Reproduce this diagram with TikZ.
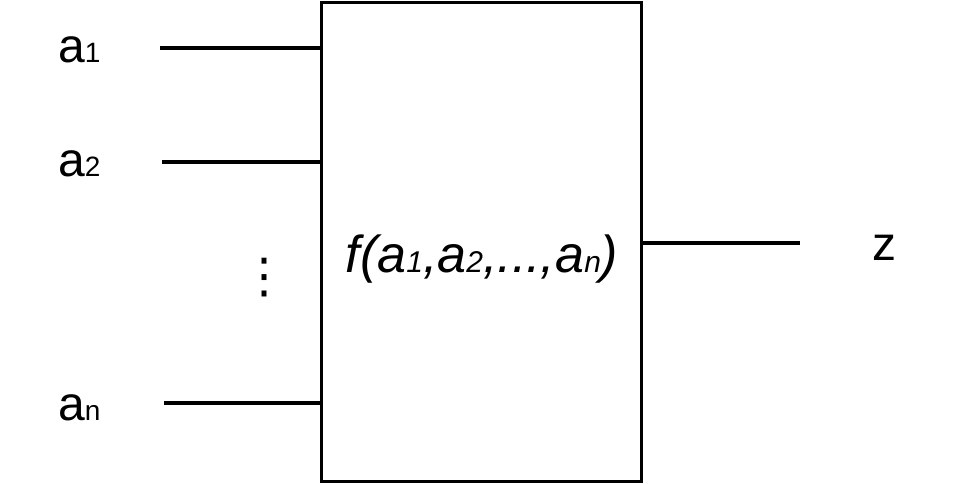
\documentclass[tikz,border=0pt]{standalone}
\usepackage{fontspec}
\setmainfont{Liberation Sans}
\newfontfamily\symfont{DejaVu Sans}

\newcommand{\sub}[2]{{\fontsize{#1}{#1}\selectfont #2}}

\tikzset{
	wire/.style={line width=3.5pt},
	lbl/.style={inner sep=0pt, anchor=base west, font=\fontsize{48}{48}\selectfont},
}

\begin{document}
\begin{tikzpicture}[x=1pt, y=-1pt]
		% Frame
		\useasboundingbox (0,0) rectangle (964,484);
		
		% Function box
		\node[draw, line width=3.5pt, minimum width=320pt, minimum height=479pt, inner sep=0pt] (fbox) at (481.5,242) {};
		\node[inner sep=0pt, anchor=base, font=\fontsize{52}{52}\selectfont\itshape] (ftext) at (482,272)
		{f(a\sub{30}{1},a\sub{30}{2},...,a\sub{30}{n})};
		
		% Inputs
		\coordinate (in1) at (160,48);
		\coordinate (in2) at (162,162);
		\coordinate (inn) at (164,403);
		\draw[wire] (in1) -- (in1 -| fbox.west);
		\draw[wire] (in2) -- (in2 -| fbox.west);
		\draw[wire] (inn) -- (inn -| fbox.west);
		
		\node[lbl] (a1) at (58,63) {a\sub{28}{1}};
		\node[lbl] (a2) at (58,177) {a\sub{28}{2}};
		\node[lbl] (an) at (58,420) {a\sub{28}{n}};
		
		% Dots
		\node[inner sep=0pt, font=\fontsize{48}{48}\selectfont\symfont] (dots) at (264,278) {⋮};
		
		% Output
		\coordinate (out) at (800,243);
		\draw[wire] (out -| fbox.east) -- (out);
		\node[lbl, anchor=base] (z) at (884,260) {z};
		\end{tikzpicture}
\end{document}
